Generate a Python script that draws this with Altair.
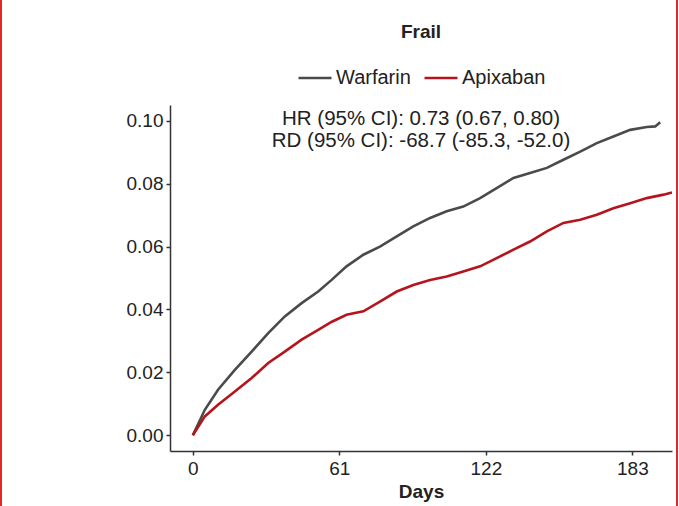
import altair as alt
import pandas as pd

# ---- data ----
warfarin_days = [0, 5.0, 10.5, 17.5, 24.5, 31.4, 38.3, 45.3, 52.2, 57.8, 64.0, 71.0, 77.9,
                 84.9, 91.8, 98.8, 105.7, 112.6, 119.6, 126.5, 133.5, 140.4, 147.4, 154.3,
                 161.3, 168.2, 175.1, 182.1, 189.0, 192.5, 194.6]
warfarin_vals = [0, 0.0081, 0.0145, 0.0208, 0.0266, 0.0325, 0.0378, 0.0420, 0.0457, 0.0494,
                 0.0537, 0.0574, 0.0600, 0.0632, 0.0664, 0.0691, 0.0712, 0.0727, 0.0754,
                 0.0786, 0.0818, 0.0834, 0.0850, 0.0876, 0.0902, 0.0929, 0.0950, 0.0971,
                 0.0980, 0.0982, 0.0995]

apixaban_days = [0, 5.0, 10.5, 17.5, 24.5, 31.4, 38.3, 45.3, 52.2, 57.9, 64.0, 71.0, 77.9,
                 84.9, 91.8, 98.8, 105.7, 112.6, 119.6, 123.8, 133.5, 140.4, 147.4, 154.3,
                 161.3, 168.2, 175.1, 182.1, 189.0, 196.0, 199.5]
apixaban_vals = [0, 0.0060, 0.0097, 0.0139, 0.0182, 0.0230, 0.0266, 0.0304, 0.0335, 0.0361,
                 0.0383, 0.0394, 0.0425, 0.0457, 0.0478, 0.0494, 0.0505, 0.0521, 0.0537,
                 0.0553, 0.0590, 0.0616, 0.0648, 0.0675, 0.0685, 0.0701, 0.0722, 0.0738,
                 0.0754, 0.0765, 0.0772]

series_names = ["Warfarin", "Apixaban"]
series_colors = ["#4a4a4a", "#b5141c"]
x_ticks = [0, 61, 122, 183]
y_ticks = [0.00, 0.02, 0.04, 0.06, 0.08, 0.10]
title_text = "Frail"
x_title = "Days"
annot_lines = ["HR (95% CI): 0.73 (0.67, 0.80)", "RD (95% CI): -68.7 (-85.3, -52.0)"]

df = pd.concat([
    pd.DataFrame({"day": warfarin_days, "risk": warfarin_vals, "group": "Warfarin", "ord": range(len(warfarin_days))}),
    pd.DataFrame({"day": apixaban_days, "risk": apixaban_vals, "group": "Apixaban", "ord": range(len(apixaban_days))}),
])

W, H = 502, 346
FONT = "Liberation Sans"

lines = alt.Chart(df).mark_line(strokeWidth=2.6, clip=True).encode(
    x=alt.X("day:Q", scale=alt.Scale(domain=[-9.5, 199.5], nice=False, zero=False),
            axis=alt.Axis(values=x_ticks, title=x_title, format="d", labelPadding=4,
                          titleFontSize=19, titleFontWeight="bold", titlePadding=4)),
    y=alt.Y("risk:Q", scale=alt.Scale(domain=[-0.005, 0.105], nice=False, zero=False),
            axis=alt.Axis(values=y_ticks, format=".2f", title=None, labelPadding=3)),
    color=alt.Color("group:N", sort=series_names,
                    scale=alt.Scale(domain=series_names, range=series_colors),
                    legend=alt.Legend(title=None, orient="none", direction="horizontal",
                                      legendX=127, legendY=-45, symbolType="stroke",
                                      symbolSize=1089, symbolStrokeWidth=2.6,
                                      labelFontSize=20, labelFont=FONT, labelColor="#222",
                                      labelOffset=3, columnPadding=8)),
    order="ord:Q",
)

title_mark = alt.Chart().mark_text(text=title_text, fontSize=19, fontWeight="bold",
                                   font="Liberation Sans Narrow, Liberation Sans", color="#222",
                                   align="center", baseline="alphabetic").encode(
    x=alt.value(W / 2), y=alt.value(-67))
annot1 = alt.Chart().mark_text(text=annot_lines[0], fontSize=20.5, font=FONT, color="#222",
                               align="center", baseline="alphabetic").encode(
    x=alt.value(W / 2), y=alt.value(20))
annot2 = alt.Chart().mark_text(text=annot_lines[1], fontSize=20.5, font=FONT, color="#222",
                               align="center", baseline="alphabetic").encode(
    x=alt.value(W / 2), y=alt.value(42))

# red frame at the left and right edges of the picture
frame_l = alt.Chart().mark_rule(color="#e3262b", strokeWidth=2).encode(
    x=alt.value(-169), y=alt.value(-105), y2=alt.value(401))
frame_r = alt.Chart().mark_rule(color="#e3262b", strokeWidth=2).encode(
    x=alt.value(507), y=alt.value(-105), y2=alt.value(401))

chart = alt.layer(lines, title_mark, annot1, annot2, frame_l, frame_r).properties(
    width=W, height=H,
    autosize=alt.AutoSizeParams(type="none"),
    padding={"left": 170, "top": 105, "right": 7, "bottom": 55},
    background="white",
).configure_view(stroke=None).configure_axis(
    grid=False, domainColor="#333", domainWidth=1.5, tickColor="#333", tickWidth=1.5,
    tickSize=4, labelFontSize=19, labelFont=FONT, labelColor="#222", titleFont=FONT,
    titleColor="#222",
)

chart.save("out.html", embed_options={"renderer": "svg", "actions": False})
